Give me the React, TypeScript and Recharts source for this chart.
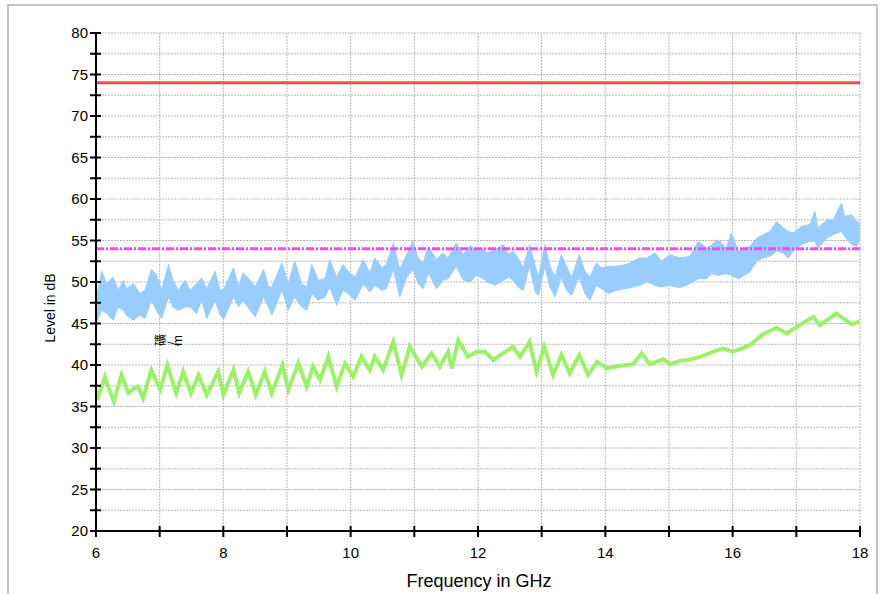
import React from 'react';
import { ComposedChart, Area, Line, XAxis, YAxis, CartesianGrid, ReferenceLine } from 'recharts';

// Frequency ticks (GHz) and level ticks (dB)
const xTicks = [6, 7, 8, 9, 10, 11, 12, 13, 14, 15, 16, 17, 18];
const xLabelTicks = [6, 8, 10, 12, 14, 16, 18];
const yTicks = [20, 22.5, 25, 27.5, 30, 32.5, 35, 37.5, 40, 42.5, 45, 47.5, 50, 52.5, 55, 57.5, 60, 62.5, 65, 67.5, 70, 72.5, 75, 77.5, 80];
const yLabelTicks = [20, 25, 30, 35, 40, 45, 50, 55, 60, 65, 70, 75, 80];

// Limit lines
const peakLimit = 74;
const avgLimit = 54;

// Peak trace (blue band): frequency, upper and lower envelope
const peakFreq = [
  6.0, 6.09, 6.17, 6.27, 6.35, 6.43, 6.48, 6.59, 6.69, 6.77, 6.87, 6.95, 7.03, 7.14, 7.21, 7.29, 7.4, 7.48, 7.58, 7.66,
  7.74, 7.87, 7.95, 8.01, 8.16, 8.24, 8.31, 8.42, 8.5, 8.63, 8.71, 8.76, 8.92, 9.02, 9.12, 9.23, 9.31, 9.39, 9.49, 9.6,
  9.67, 9.78, 9.88, 9.96, 10.07, 10.2, 10.3, 10.38, 10.49, 10.56, 10.67, 10.77, 10.88, 10.98, 11.06, 11.14, 11.22, 11.35, 11.45, 11.53,
  11.66, 11.77, 11.87, 11.98, 12.08, 12.14, 12.27, 12.4, 12.48, 12.55, 12.63, 12.71, 12.81, 12.9, 12.95, 13.05, 13.13, 13.21, 13.31, 13.39,
  13.47, 13.59, 13.68, 13.76, 13.86, 13.94, 14.05, 14.18, 14.33, 14.54, 14.65, 14.78, 14.88, 15.01, 15.17, 15.33, 15.46, 15.59, 15.67, 15.77,
  15.9, 15.98, 16.09, 16.14, 16.27, 16.38, 16.48, 16.59, 16.69, 16.8, 16.87, 16.95, 17.08, 17.21, 17.29, 17.34, 17.48, 17.58, 17.71, 17.76,
  17.87, 17.95, 18.0,
];
const peakHigh = [
  47.9, 51.3, 49.8, 50.6, 49.0, 50.2, 49.2, 49.8, 48.6, 49.0, 51.5, 50.9, 49.0, 52.1, 50.2, 49.0, 50.2, 49.0, 49.8, 50.5,
  49.2, 51.3, 49.0, 49.2, 51.7, 49.4, 51.1, 50.2, 49.4, 51.5, 49.4, 49.4, 52.3, 49.8, 52.5, 49.8, 49.4, 52.1, 50.2, 50.4,
  52.7, 50.6, 52.1, 51.3, 50.6, 52.7, 51.1, 52.9, 51.7, 52.1, 54.7, 51.5, 53.3, 54.9, 52.9, 52.3, 54.3, 52.7, 53.5, 52.9,
  54.7, 53.3, 54.3, 53.9, 54.0, 53.5, 53.9, 54.5, 53.3, 53.7, 52.9, 51.7, 54.5, 51.9, 50.6, 54.5, 51.9, 50.6, 53.3, 51.9,
  50.6, 53.3, 51.3, 50.6, 52.3, 51.7, 51.9, 51.9, 52.1, 52.9, 52.9, 53.5, 52.5, 53.3, 52.9, 53.1, 54.9, 54.1, 54.5, 55.1,
  54.1, 55.9, 53.7, 53.9, 54.3, 55.3, 55.7, 56.1, 57.3, 56.5, 56.1, 55.9, 56.7, 56.9, 58.5, 56.5, 57.5, 57.5, 59.5, 57.9,
  58.1, 57.3, 57.1,
];
const peakLow = [
  45.0, 46.6, 46.2, 45.4, 47.0, 46.6, 46.0, 45.4, 46.0, 45.6, 47.8, 46.6, 45.6, 48.2, 47.0, 46.6, 47.0, 47.0, 46.2, 47.8,
  45.6, 47.8, 46.0, 45.6, 48.2, 47.0, 47.8, 46.6, 45.8, 48.2, 47.0, 46.0, 49.0, 46.6, 48.2, 47.0, 46.6, 48.6, 47.8, 48.2,
  49.4, 47.2, 49.0, 48.6, 47.8, 49.8, 48.8, 49.6, 49.0, 49.2, 51.5, 48.2, 50.6, 51.5, 49.8, 49.2, 51.1, 49.2, 50.2, 50.4,
  51.9, 50.2, 50.0, 50.8, 50.4, 50.0, 49.6, 50.2, 50.6, 50.2, 49.4, 49.0, 51.9, 48.8, 48.4, 51.9, 49.4, 48.2, 50.6, 49.0,
  48.4, 50.6, 48.6, 47.8, 49.6, 49.2, 48.6, 49.0, 49.2, 49.6, 50.0, 49.6, 49.4, 49.6, 49.3, 49.8, 50.4, 50.4, 51.0, 50.8,
  51.0, 50.8, 50.4, 50.6, 51.2, 52.5, 52.9, 53.1, 53.7, 53.5, 52.9, 53.7, 54.5, 54.9, 54.9, 54.1, 55.3, 55.7, 56.1, 55.5,
  54.5, 54.3, 55.3,
];

// Average trace (green)
const avgFreq = [
  6.0, 6.02, 6.14, 6.19, 6.28, 6.4, 6.51, 6.6, 6.66, 6.74, 6.87, 7.01, 7.12, 7.26, 7.37, 7.49, 7.61, 7.74, 7.92, 8.0,
  8.16, 8.25, 8.39, 8.51, 8.65, 8.76, 8.93, 9.02, 9.18, 9.31, 9.41, 9.52, 9.65, 9.78, 9.91, 10.04, 10.17, 10.3, 10.38, 10.51,
  10.67, 10.8, 10.93, 11.12, 11.27, 11.4, 11.53, 11.59, 11.69, 11.84, 11.98, 12.11, 12.24, 12.35, 12.55, 12.66, 12.81, 12.92, 13.04, 13.18,
  13.31, 13.44, 13.59, 13.73, 13.87, 14.02, 14.23, 14.44, 14.57, 14.7, 14.91, 15.02, 15.17, 15.3, 15.5, 15.7, 15.85, 16.0, 16.15, 16.27,
  16.48, 16.69, 16.85, 17.01, 17.27, 17.37, 17.63, 17.87, 18.0,
];
const avgLevel = [
  36.8, 35.8, 38.6, 37.4, 35.6, 38.8, 36.6, 37.2, 37.4, 36.0, 39.4, 37.0, 40.0, 36.6, 39.2, 36.6, 38.8, 36.4, 39.2, 36.4,
  39.4, 36.6, 39.2, 36.4, 39.2, 36.6, 40.0, 37.0, 40.2, 37.4, 39.8, 38.2, 41.0, 37.4, 40.2, 38.6, 41.0, 39.4, 41.0, 39.4,
  42.8, 38.8, 42.2, 39.8, 41.4, 39.8, 41.6, 39.6, 43.0, 41.0, 41.6, 41.6, 40.6, 41.2, 42.2, 41.0, 42.8, 39.2, 42.2, 38.8,
  41.2, 39.0, 41.2, 38.8, 40.4, 39.6, 39.9, 40.1, 41.4, 40.1, 40.7, 40.1, 40.5, 40.6, 41.0, 41.6, 42.0, 41.6, 42.0, 42.4,
  43.7, 44.5, 43.8, 44.6, 45.8, 44.8, 46.2, 44.9, 45.3,
];

const peakData = peakFreq.map((f, i) => ({ f, band: [peakLow[i], peakHigh[i]] }));
const avgData = avgFreq.map((f, i) => ({ f, v: avgLevel[i] }));

const FONT = '"Liberation Sans", Arial, Helvetica, sans-serif';

const XTick = (props: any) => {
  const { x, y, payload } = props;
  const show = xLabelTicks.includes(payload.value);
  return (
    <g>
      <line x1={x} x2={x} y1={y - 5} y2={y + 6} stroke="#000" strokeWidth={2} />
      {show && (
        <text x={x} y={y + 27} textAnchor="middle" fontSize={15} fontFamily={FONT} fill="#000">
          {payload.value}
        </text>
      )}
    </g>
  );
};

const YTick = (props: any) => {
  const { x, y, payload } = props;
  const show = yLabelTicks.includes(payload.value);
  return (
    <g>
      <line x1={x - 6} x2={x + 5} y1={y} y2={y} stroke="#000" strokeWidth={2} />
      {show && (
        <text x={x - 8} y={y + 5} textAnchor="end" fontSize={15} fontFamily={FONT} fill="#000">
          {payload.value}
        </text>
      )}
    </g>
  );
};

export default function App() {
  return (
    <div style={{ position: 'absolute', left: 0, top: 0, width: 880, height: 594, background: '#fff' }}>
      <ComposedChart width={880} height={594} margin={{ top: 33, right: 20, bottom: 23, left: 36 }}>
        <CartesianGrid stroke="#b8b8b8" strokeDasharray="2 1" />
        <XAxis
          type="number"
          dataKey="f"
          domain={[6, 18]}
          ticks={xTicks}
          interval={0}
          allowDataOverflow
          height={40}
          tickSize={0}
          tickMargin={0}
          tickLine={false}
          tick={(p: any) => <XTick {...p} />}
          axisLine={{ stroke: '#000', strokeWidth: 2 }}
        />
        <YAxis
          type="number"
          domain={[20, 80]}
          ticks={yTicks}
          interval={0}
          allowDataOverflow
          width={60}
          tickSize={0}
          tickMargin={0}
          tickLine={false}
          tick={(p: any) => <YTick {...p} />}
          axisLine={{ stroke: '#000', strokeWidth: 2 }}
        />
        <Area
          data={peakData}
          dataKey="band"
          type="linear"
          stroke="#99ccff"
          strokeWidth={1}
          fill="#99ccff"
          fillOpacity={1}
          dot={false}
          activeDot={false}
          isAnimationActive={false}
        />
        <Line
          data={avgData}
          dataKey="v"
          type="linear"
          stroke="#9cf06a"
          strokeWidth={4}
          dot={false}
          activeDot={false}
          isAnimationActive={false}
        />
        <ReferenceLine y={peakLimit} stroke="#ff4848" strokeWidth={3} />
        <ReferenceLine y={avgLimit} stroke="#ff44ff" strokeWidth={3} strokeDasharray="8 2 2 2" />
      </ComposedChart>
      <svg width={880} height={594} style={{ position: 'absolute', left: 0, top: 0, pointerEvents: 'none' }}>
        <path d="M8 600 L8 5 L877 5 L877 600" fill="none" stroke="#c4c4c4" strokeWidth={2} />
        <text x={479} y={587} textAnchor="middle" fontSize={18} fontFamily={FONT} fill="#000">
          Frequency in GHz
        </text>
        <text
          x={55}
          y={308}
          textAnchor="middle"
          fontSize={14}
          fontFamily={FONT}
          fill="#000"
          transform="rotate(-90 55 308)"
        >
          Level in dB
        </text>
        <text x={165} y={346} rotate="-90" fontSize={12} fontFamily={'"Noto Sans CJK SC", sans-serif'} fill="#000">
          礦/m
        </text>
      </svg>
    </div>
  );
}
